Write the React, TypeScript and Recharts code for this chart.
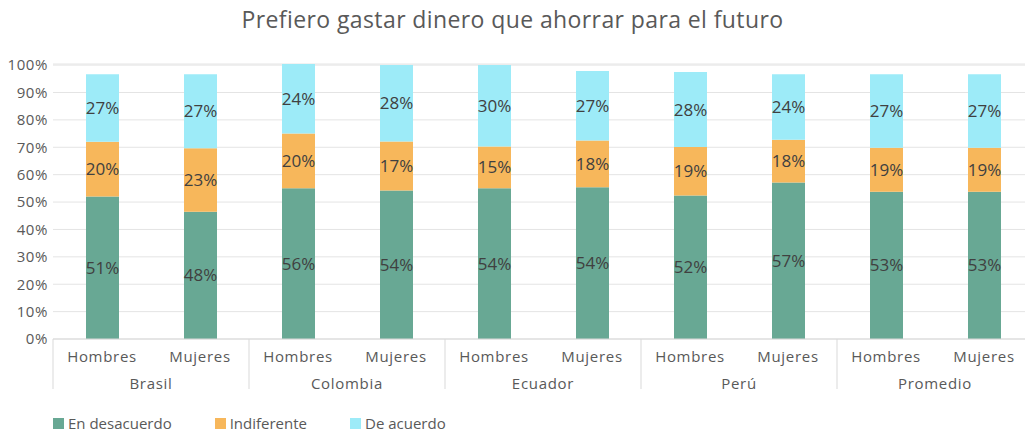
import React from 'react';
import { BarChart, Bar, XAxis, YAxis, CartesianGrid, Legend, LabelList } from 'recharts';

const genders = ['Hombres', 'Mujeres', 'Hombres', 'Mujeres', 'Hombres', 'Mujeres', 'Hombres', 'Mujeres', 'Hombres', 'Mujeres'];
const countries = ['Brasil', 'Brasil', 'Colombia', 'Colombia', 'Ecuador', 'Ecuador', 'Perú', 'Perú', 'Promedio', 'Promedio'];

// bar heights (as drawn)
const desacuerdo = [52, 46.5, 55, 54.2, 55, 55.4, 52.4, 57.1, 53.8, 53.8];
const indiferente = [20, 23.1, 20, 17.9, 15.3, 17.1, 17.7, 15.6, 16, 16];
const deAcuerdo = [24.7, 27.1, 25.4, 27.9, 29.7, 25.3, 27.4, 24.0, 26.9, 26.9];

// printed labels
const desacuerdoLbl = [51, 48, 56, 54, 54, 54, 52, 57, 53, 53];
const indiferenteLbl = [20, 23, 20, 17, 15, 18, 19, 18, 19, 19];
const deAcuerdoLbl = [27, 27, 24, 28, 30, 27, 28, 24, 27, 27];

const yTicks = [0, 10, 20, 30, 40, 50, 60, 70, 80, 90, 100];

const seriesNames = ['En desacuerdo', 'Indiferente', 'De acuerdo'];
const colors = ['#68A894', '#F7B75B', '#9DEBF8'];

const data = genders.map((g, i) => ({
  gender: g,
  country: countries[i],
  d: desacuerdo[i],
  n: indiferente[i],
  a: deAcuerdo[i],
  dl: desacuerdoLbl[i] + '%',
  nl: indiferenteLbl[i] + '%',
  al: deAcuerdoLbl[i] + '%',
}));

const FONT = '"Open Sans", sans-serif';
const CHART_W = 1040;
const CHART_H = 433;
const LEFT = 53;
const RIGHT = 7;
const BAND = (CHART_W - LEFT - RIGHT) / data.length;

const GenderTick = (props: any) => {
  const { x, y, payload, index } = props;
  return (
    <g>
      <text x={x} y={y + 23} textAnchor="middle" fill="#595959" fontSize={15} fontFamily={FONT} letterSpacing={0.7}>
        {payload.value}
      </text>
      {index % 2 === 0 && (
        <line x1={x - BAND / 2} x2={x - BAND / 2} y1={y} y2={y + 50} stroke="#d9d9d9" strokeWidth={1} />
      )}
      {index === data.length - 1 && (
        <line x1={x + BAND / 2} x2={x + BAND / 2} y1={y} y2={y + 50} stroke="#d9d9d9" strokeWidth={1} />
      )}
    </g>
  );
};

const CountryTick = (props: any) => {
  const { x, y, payload, index } = props;
  if (index % 2 !== 0) return <g />;
  return (
    <text x={x + BAND / 2} y={y + 26} textAnchor="middle" fill="#595959" fontSize={15} fontFamily={FONT} letterSpacing={0.7}>
      {payload.value}
    </text>
  );
};

const LegendContent = () => (
  <div style={{ display: 'flex', paddingLeft: LEFT, height: 20, alignItems: 'center', fontFamily: FONT, fontSize: 15, color: '#595959' }}>
    {seriesNames.map((n, i) => (
      <div key={n} style={{ display: 'flex', alignItems: 'center', marginRight: 43 }}>
        <div style={{ width: 11, height: 11, background: colors[i], marginRight: 4 }} />
        <span>{n}</span>
      </div>
    ))}
  </div>
);

export default function App() {
  return (
    <div style={{ position: 'absolute', left: 0, top: 0, width: 1025, height: 433, overflow: 'hidden', background: '#fff' }}>
      <div style={{ position: 'absolute', left: 0, top: 3, width: 1025, textAlign: 'center', fontFamily: FONT, fontSize: 23, letterSpacing: 0.4, color: '#595959' }}>
        Prefiero gastar dinero que ahorrar para el futuro
      </div>
      <BarChart
        width={CHART_W}
        height={CHART_H}
        data={data}
        margin={{ top: 64, right: RIGHT, left: 0, bottom: 0 }}
        barSize={33}
      >
        <CartesianGrid vertical={false} stroke="#e4e4e4" />
        <XAxis
          dataKey="gender"
          interval={0}
          height={24}
          tickSize={0}
          tickMargin={0}
          tickLine={false}
          axisLine={{ stroke: '#d9d9d9' }}
          tick={<GenderTick />}
        />
        <XAxis
          dataKey="country"
          xAxisId="g"
          interval={0}
          height={50}
          tickSize={0}
          tickMargin={0}
          tickLine={false}
          axisLine={false}
          tick={<CountryTick />}
        />
        <YAxis
          width={LEFT}
          domain={[0, 100]}
          ticks={yTicks}
          interval={0}
          tickFormatter={(v: number) => `${v}%`}
          axisLine={false}
          tickLine={false}
          tickSize={0}
          tickMargin={5}
          tick={{ fill: '#595959', fontSize: 15, fontFamily: FONT, letterSpacing: 0.6 }}
        />
        <Legend verticalAlign="bottom" align="left" content={<LegendContent />} />
        <Bar dataKey="d" stackId="s" fill={colors[0]} isAnimationActive={false} name={seriesNames[0]}>
          <LabelList dataKey="dl" position="center" fill="#404040" fontSize={17} fontFamily={FONT} />
        </Bar>
        <Bar dataKey="n" stackId="s" fill={colors[1]} isAnimationActive={false} name={seriesNames[1]}>
          <LabelList dataKey="nl" position="center" fill="#404040" fontSize={17} fontFamily={FONT} />
        </Bar>
        <Bar dataKey="a" stackId="s" fill={colors[2]} isAnimationActive={false} name={seriesNames[2]}>
          <LabelList dataKey="al" position="center" fill="#404040" fontSize={17} fontFamily={FONT} />
        </Bar>
      </BarChart>
    </div>
  );
}
